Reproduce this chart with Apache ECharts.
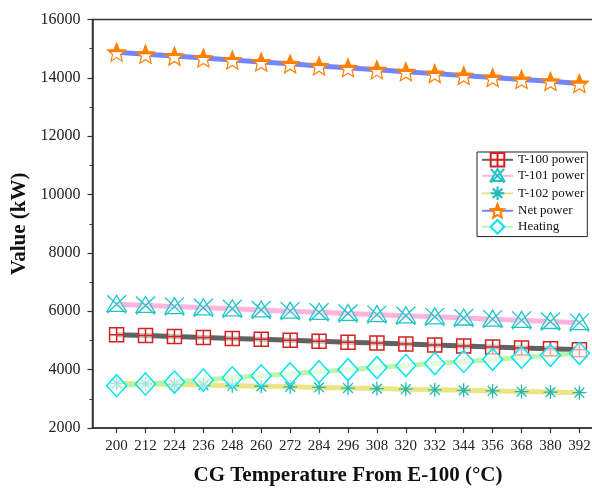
<!DOCTYPE html>
<html>
<head>
<meta charset="utf-8">
<script src="https://cdn.jsdelivr.net/npm/echarts@6/dist/echarts.min.js"></script>
<style>
html,body{margin:0;padding:0;background:#fff;}
#chart{width:592px;height:489px;}
</style>
</head>
<body>
<div id="chart"></div>
<script>
var temperatures = [200,212,224,236,248,260,272,284,296,308,320,332,344,356,368,380,392];
var t100Power = [5200,5170,5135,5105,5070,5040,5005,4975,4940,4910,4875,4845,4810,4780,4745,4715,4680];
var t101Power = [6240,6200,6160,6120,6085,6045,6005,5965,5925,5885,5845,5810,5770,5730,5690,5650,5610];
var t102Power = [3530,3510,3490,3470,3450,3430,3410,3390,3370,3350,3330,3310,3290,3270,3250,3230,3210];
var netPower = [14880,14810,14745,14680,14610,14545,14480,14410,14345,14280,14210,14145,14080,14010,13945,13880,13810];
var heating = [3450,3510,3575,3645,3720,3790,3860,3930,4000,4070,4140,4210,4280,4350,4420,4490,4560];
var seriesNames = ['T-100 power','T-101 power','T-102 power','Net power','Heating'];
var yTicks = [2000,4000,6000,8000,10000,12000,14000,16000];

var FONT = '"Liberation Serif","Times New Roman",serif';
function pairs(vals){ return temperatures.map(function(t,i){ return [t, vals[i]]; }); }

var starPath = 'path://M10,0 L12.65,6.36 L19.51,6.91 L14.28,11.39 L15.88,18.09 L10,14.5 L4.12,18.09 L5.72,11.39 L0.49,6.91 L7.35,6.36 Z';
var starFill = {type:'linear',x:0,y:0,x2:0,y2:1,colorStops:[
  {offset:0,color:'#ff8000'},{offset:0.5,color:'#ff8000'},{offset:0.52,color:'#ffffff'},{offset:1,color:'#ffffff'}]};

function mk(name, vals, lineColor, symbol, size, fill, border, bw){
  return {
    name: name, type:'line', data: pairs(vals),
    symbol: symbol, symbolSize: size, showAllSymbol:true,
    lineStyle:{color: lineColor, width:5, opacity:0.85},
    itemStyle:{color: fill, borderColor: border, borderWidth: bw, opacity:1},
    emphasis:{disabled:true}, animation:false
  };
}

var chart = echarts.init(document.getElementById('chart'), null, {renderer:'canvas'});
chart.setOption({
  backgroundColor:'#ffffff',
  animation:false,
  grid:{left:92.5, top:19.5, bottom:61, right:-11.5, containLabel:false, outerBoundsMode:'none',
        show:true, borderColor:'#333', borderWidth:1.5, backgroundColor:'transparent'},
  legend:{
    orient:'vertical', left:477, top:152,
    data: seriesNames,
    borderColor:'#222', borderWidth:1, padding:[0,3,2,4],
    itemWidth:31, itemHeight:17, itemGap:0.4,
    textStyle:{fontFamily:FONT, fontSize:13, color:'#111'}
  },
  xAxis:{
    type:'value', min:190, max:402,
    name:'CG Temperature From E-100 (\u00B0C)', nameLocation:'middle', nameGap:37,
    nameTextStyle:{fontFamily:FONT, fontSize:21, fontWeight:'bold', color:'#111'},
    axisLine:{show:true, lineStyle:{color:'#333', width:1.5}},
    axisTick:{show:true, length:5, customValues: temperatures, lineStyle:{color:'#333', width:1.2}},
    axisLabel:{customValues: temperatures, margin:11, fontFamily:FONT, fontSize:15, color:'#222',
      formatter:function(v){ return String(v); }},
    splitLine:{show:false}
  },
  yAxis:{
    type:'value', min:2000, max:16000, interval:2000,
    name:'Value (kW)', nameLocation:'middle', nameGap:57, nameRotate:90,
    nameTextStyle:{fontFamily:FONT, fontSize:21, fontWeight:'bold', color:'#111'},
    axisLine:{show:true, lineStyle:{color:'#333', width:1.5}},
    axisTick:{show:true, length:5, lineStyle:{color:'#333', width:1.2}},
    minorTick:{show:true, splitNumber:2, length:3, lineStyle:{color:'#333', width:1}},
    axisLabel:{margin:12, fontFamily:FONT, fontSize:16, color:'#222',
      formatter:function(v){ return String(v); }},
    splitLine:{show:false}
  },
  series:[
    mk(seriesNames[0], t100Power, '#474747', 'path://M0,0H20V20H0Z M10,0V20 M0,10H20', 14, 'rgba(255,255,255,0.6)', '#d42020', 1.5),
    mk(seriesNames[1], t101Power, '#ffa8d8', 'path://M10,1L19,17H1Z M1,1L19,19 M19,1L1,19', [19,18], 'rgba(255,255,255,0.5)', '#20c4c8', 1.3),
    mk(seriesNames[2], t102Power, '#e8e070', 'path://M10,0V20 M0,10H20 M3,3L17,17 M17,3L3,17', 14, 'none', '#20b8b8', 1.3),
    mk(seriesNames[3], netPower, '#5a70ff', starPath, 18, starFill, '#ff7f00', 1.2),
    mk(seriesNames[4], heating, '#b0f5a0', 'diamond', [20,22], 'rgba(255,255,255,0.6)', '#00e5ee', 1.5)
  ]
});
</script>
</body>
</html>
